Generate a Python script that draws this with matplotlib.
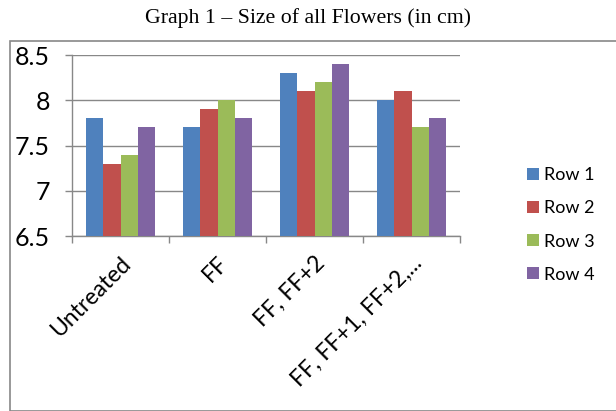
import matplotlib
matplotlib.use("Agg")
import matplotlib.pyplot as plt
from matplotlib.patches import Rectangle
import numpy as np

categories = ["Untreated", "FF", "FF, FF+2", "FF, FF+1, FF+2,..."]
series_names = ["Row 1", "Row 2", "Row 3", "Row 4"]
row1 = [7.8, 7.7, 8.3, 8.0]
row2 = [7.3, 7.9, 8.1, 8.1]
row3 = [7.4, 8.0, 8.2, 7.7]
row4 = [7.7, 7.8, 8.4, 7.8]
colors = ["#4F81BD", "#C0504D", "#9BBB59", "#8064A2"]

W, H = 616, 411
fig = plt.figure(figsize=(W / 100, H / 100), dpi=100)
fig.patch.set_facecolor("white")

# outer chart border
fig.patches.append(Rectangle((10 / W, 0), (W - 9) / W, (H - 41) / H,
                             transform=fig.transFigure, fill=False,
                             edgecolor="#888888", linewidth=1.2))

fig.text(308 / W, 1 - 18 / H, "Graph 1 \u2013 Size of all Flowers (in cm)",
         ha="center", va="center", family="Liberation Serif", fontsize=15.7)

left, right, top, bottom = 72, 460, 55, 236
ax = fig.add_axes([left / W, 1 - bottom / H, (right - left) / W, (bottom - top) / H])

x = np.arange(len(categories))
bw = 0.18
for i, (vals, name) in enumerate(zip([row1, row2, row3, row4], series_names)):
    ax.bar(x + (i - 1.5) * bw, np.array(vals) - 6.5, bottom=6.5, width=bw,
           color=colors[i], label=name, zorder=3)

ax.set_ylim(6.5, 8.5)
ax.set_xlim(-0.5, len(categories) - 0.5)
ax.set_yticks([6.5, 7, 7.5, 8, 8.5])
ax.set_yticklabels(["6.5", "7", "7.5", "8", "8.5"], family="Lato", fontsize=18)
ax.yaxis.grid(True, color="#888888", linewidth=1.0, zorder=0)
ax.set_axisbelow(True)

ax.set_xticks(x)
ax.set_xticklabels(categories, rotation=45, ha="right", rotation_mode="anchor",
                   family="Lato", fontsize=16.5)
ax.set_xticks(np.arange(-0.5, len(categories)), minor=True)
ax.tick_params(axis="x", which="major", length=0, pad=12)
ax.tick_params(axis="x", which="minor", length=5, color="#888888", width=1)
ax.tick_params(axis="y", length=5, color="#888888", width=1, pad=11)

for s in ["top", "right"]:
    ax.spines[s].set_visible(False)
for s in ["left", "bottom"]:
    ax.spines[s].set_color("#888888")
    ax.spines[s].set_linewidth(1.0)

leg = fig.legend(loc="center left", bbox_to_anchor=(511 / W, 1 - 225 / H),
                 frameon=False, prop={"family": "Lato", "size": 13},
                 handlelength=0.65, handleheight=0.65, handletextpad=0.3,
                 labelspacing=0.95)

fig.savefig("out.png", dpi=100)
